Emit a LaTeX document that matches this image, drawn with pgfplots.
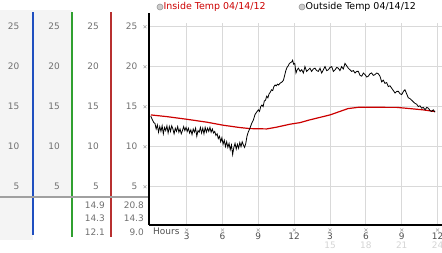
\documentclass[border=0pt]{standalone}
\usepackage{pgfplots}
\pgfplotsset{compat=1.18}
\usepackage{fontspec}
\setmainfont{DejaVu Sans}
\definecolor{panelgrey}{HTML}{F4F4F4}
\definecolor{blueline}{HTML}{1F4FC0}
\definecolor{greenline}{HTML}{30A030}
\definecolor{redline}{HTML}{B83030}
\definecolor{greyline}{HTML}{A0A0A0}
\definecolor{gridc}{HTML}{D9D9D9}
\definecolor{lab}{HTML}{707070}
\definecolor{darklab}{HTML}{505050}
\definecolor{lightlab}{HTML}{D4D4D4}
\definecolor{insred}{HTML}{CC0000}
\pgfplotstableread{
h v
0.00 13.96
1.33 13.75
3.00 13.42
4.70 13.05
6.07 12.67
7.46 12.38
8.30 12.25
9.70 12.21
10.50 12.42
11.65 12.80
12.50 13.00
13.30 13.34
15.00 13.96
16.50 14.75
17.40 14.92
20.60 14.90
21.70 14.75
22.80 14.59
23.80 14.38
}\inside
\pgfplotstableread{
h v
0.00 13.8
0.15 13.3
0.25 13.0
0.35 12.9
0.45 12.2
0.55 12.7
0.65 11.8
0.75 12.5
0.85 11.9
0.95 12.6
1.05 11.6
1.15 12.4
1.25 12.0
1.35 12.6
1.45 11.7
1.55 12.5
1.65 11.9
1.75 12.6
1.85 12.2
1.95 11.6
2.05 12.3
2.15 11.9
2.25 12.5
2.35 11.8
2.45 12.2
2.55 11.6
2.65 12.0
2.75 12.5
2.85 12.0
2.95 12.4
3.05 11.9
3.15 12.3
3.25 11.7
3.35 12.1
3.45 11.5
3.55 12.2
3.65 11.8
3.75 12.3
3.85 11.3
3.95 12.0
4.05 11.8
4.15 12.4
4.25 11.7
4.35 12.3
4.45 11.6
4.55 12.4
4.65 11.8
4.75 12.3
4.85 11.9
4.95 12.4
5.05 11.8
5.15 12.2
5.25 11.7
5.35 11.9
5.45 11.4
5.55 11.6
5.65 11.0
5.75 11.3
5.85 10.6
5.95 11.1
6.05 10.3
6.15 10.8
6.25 10.0
6.35 10.6
6.45 9.9
6.55 10.4
6.65 9.6
6.75 10.2
6.85 9.0
6.95 9.9
7.05 10.4
7.15 9.7
7.25 10.3
7.35 9.8
7.45 10.5
7.55 10.0
7.65 10.6
7.75 10.2
7.85 9.9
7.95 10.4
8.05 11.3
8.15 11.8
8.30 12.3
8.44 12.9
8.58 13.3
8.72 14.0
8.85 14.3
9.00 14.6
9.10 14.4
9.20 15.0
9.30 15.2
9.40 15.0
9.50 15.7
9.60 15.8
9.70 16.3
9.80 16.1
9.90 16.6
10.00 16.8
10.10 17.1
10.20 17.0
10.30 17.5
10.40 17.7
10.50 17.6
10.60 17.8
10.70 17.7
10.80 17.9
10.90 18.0
11.00 18.1
11.10 18.3
11.20 18.9
11.30 19.5
11.40 19.9
11.50 20.1
11.60 20.4
11.70 20.5
11.80 20.6
11.87 20.8
11.95 20.3
12.05 20.4
12.15 19.2
12.25 19.6
12.35 19.8
12.50 19.4
12.63 19.6
12.77 19.2
12.90 20.0
13.04 19.4
13.18 19.6
13.32 19.8
13.46 19.4
13.60 19.7
13.74 19.8
13.88 19.5
14.02 19.4
14.16 19.8
14.30 19.2
14.44 19.6
14.58 20.0
14.72 19.5
14.86 19.6
15.00 19.9
15.14 20.0
15.28 19.4
15.42 19.6
15.56 19.9
15.69 19.8
15.83 19.5
15.97 20.0
16.11 19.7
16.25 20.4
16.39 20.1
16.53 19.8
16.67 19.6
16.81 19.4
16.95 19.5
17.09 19.2
17.23 19.4
17.37 19.4
17.51 18.9
17.65 18.8
17.79 19.2
17.93 19.0
18.07 18.7
18.20 18.8
18.34 19.1
18.48 19.2
18.62 18.9
18.76 19.0
18.90 19.2
19.04 19.1
19.18 18.8
19.32 18.1
19.46 18.3
19.60 17.9
19.74 18.0
19.88 17.5
20.02 17.6
20.16 17.3
20.30 17.0
20.44 16.7
20.58 16.9
20.72 16.9
20.86 16.6
21.00 16.5
21.14 16.9
21.27 17.1
21.41 16.6
21.55 16.1
21.69 16.0
21.83 15.8
21.97 15.6
22.11 15.4
22.25 15.3
22.39 15.0
22.53 15.1
22.67 14.8
22.81 14.9
22.95 14.6
23.09 14.9
23.23 14.8
23.37 14.5
23.50 14.4
23.64 14.6
23.78 14.3
}\outside
\begin{document}
\begin{tikzpicture}
\useasboundingbox (0,0) rectangle (442bp,253bp);
% left panel
\fill[panelgrey] (0,13bp) rectangle (33bp,243bp);
\fill[panelgrey] (33bp,56bp) rectangle (72bp,243bp);
\draw[blueline, line width=1.1bp] (33bp,18bp) -- (33bp,241bp);
\draw[greenline, line width=1.1bp] (72bp,16bp) -- (72bp,241bp);
\draw[redline, line width=1.1bp] (111bp,16bp) -- (111bp,241bp);
\draw[greyline, line width=2bp] (0,56bp) -- (149bp,56bp);
\foreach \v in {5,10,15,20,25} {
  \foreach \xr in {19.5,60,99,137.5} {
    \node[anchor=east, inner sep=0, text=lab, font=\fontsize{9}{10}\selectfont] at ({\xr*1bp},{(26.3+8*\v)*1bp}) {\v};
  }
  \draw[gray!70, line width=0.5bp] (143.5bp,{(24.8+8*\v)*1bp}) -- (146.5bp,{(27.8+8*\v)*1bp});
  \draw[gray!70, line width=0.5bp] (143.5bp,{(27.8+8*\v)*1bp}) -- (146.5bp,{(24.8+8*\v)*1bp});
}
\node[anchor=east, inner sep=0, text=lab, font=\fontsize{9}{10}\selectfont] at (105bp,48bp) {14.9};
\node[anchor=east, inner sep=0, text=lab, font=\fontsize{9}{10}\selectfont] at (105bp,34.5bp) {14.3};
\node[anchor=east, inner sep=0, text=lab, font=\fontsize{9}{10}\selectfont] at (105bp,21bp) {12.1};
\node[anchor=east, inner sep=0, text=lab, font=\fontsize{9}{10}\selectfont] at (144bp,48bp) {20.8};
\node[anchor=east, inner sep=0, text=lab, font=\fontsize{9}{10}\selectfont] at (144bp,34.5bp) {14.3};
\node[anchor=east, inner sep=0, text=lab, font=\fontsize{9}{10}\selectfont] at (144bp,21bp) {9.0};
% legend
\fill[gray!40, draw=gray!80, line width=0.6bp] (160bp,246bp) circle (3bp);
\node[anchor=west, inner sep=0, text=insred, font=\fontsize{9.5}{10}\selectfont] at (163.5bp,246bp) {Inside Temp 04/14/12};
\fill[gray!40, draw=gray!80, line width=0.6bp] (302bp,246bp) circle (3bp);
\node[anchor=west, inner sep=0, text=black, font=\fontsize{9.5}{10}\selectfont] at (305.5bp,246bp) {Outside Temp 04/14/12};
% x labels
\node[anchor=west, inner sep=0, text=darklab, font=\fontsize{9}{10}\selectfont] at (153bp,21.3bp) {Hours};
\foreach \h/\l in {3/3,6/6,9/9,12/12,15/3,18/6,21/9,24/12} {
  \node[inner sep=0, text=darklab, font=\fontsize{9}{10}\selectfont] at ({(150.8+11.95*\h)*1bp},17bp) {\l};
  \draw[gray!70, line width=0.5bp] ({(149.3+11.95*\h)*1bp},21.5bp) -- ({(152.3+11.95*\h)*1bp},24.5bp);
  \draw[gray!70, line width=0.5bp] ({(149.3+11.95*\h)*1bp},24.5bp) -- ({(152.3+11.95*\h)*1bp},21.5bp);
}
\foreach \h in {15,18,21,24} {
  \node[inner sep=0, text=lightlab, font=\fontsize{9}{10}\selectfont] at ({(150.8+11.95*\h)*1bp},8bp) {\h};
}
\begin{axis}[
  at={(149bp,28bp)}, anchor=south west,
  scale only axis, width=293bp, height=202bp,
  xmin=-0.15, xmax=24.37, ymin=0.2, ymax=25.45,
  axis x line*=bottom, axis y line*=left,
  axis line style={black, line width=1.5bp, -},
  xtick={3,6,...,24}, ytick={5,10,...,25},
  xticklabels={}, yticklabels={},
  major tick length=0pt,
  grid=major, grid style={gridc, line width=1bp},
]
\addplot[insred, line width=1.2bp, no markers] table[x=h,y=v] {\inside};
\addplot[black, line width=0.8bp, no markers] table[x=h,y=v] {\outside};
\end{axis}
\draw[black, line width=1.5bp] (149bp,229bp) -- (149bp,240bp);
\end{tikzpicture}
\end{document}
